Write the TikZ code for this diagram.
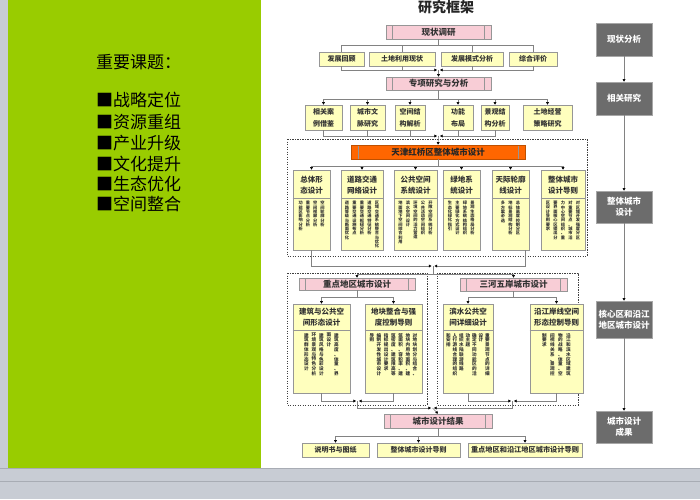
\documentclass[tikz,border=0pt]{standalone}
\usepackage{fontspec}
\setmainfont{Noto Sans CJK SC}
\usetikzlibrary{arrows.meta}
\definecolor{greenbg}{RGB}{153,204,0}
\definecolor{bandc}{RGB}{200,204,212}
\definecolor{bandl}{RGB}{168,172,180}
\definecolor{pinkc}{RGB}{248,205,214}
\definecolor{yelc}{RGB}{255,255,190}
\definecolor{orc}{RGB}{255,102,0}
\definecolor{orb}{RGB}{190,80,0}
\definecolor{bc}{RGB}{150,150,150}
\definecolor{lc}{RGB}{130,130,130}
\definecolor{gc}{RGB}{108,108,108}
\def\vsp#1{\ifx#1\relax\else\hbox{#1}\expandafter\vsp\fi}
% name, x of rightmost column, y top, column step, style, list
\newcommand\vcols[6]{%
  \foreach \vtx [count=\vi] in {#6} {%
    \pgfmathsetmacro\vxx{#2-(\vi-1)*#4}%
    \node[#5,anchor=north] (#1-\vi) at (\vxx,#3) {\vbox{\lineskiplimit=-10pt\lineskip=0pt\expandafter\vsp\vtx\relax}};
  }}
\begin{document}
\begin{tikzpicture}[x=1pt,y=-1pt,
  line/.style={draw=lc,line width=0.6pt},
  arr/.style={draw=lc,line width=0.6pt,-{Triangle[length=2.6pt,width=2.8pt,color=black]}},
  inner lines/.style={path picture={\draw[bc,line width=0.6pt]
      ([xshift=#1]path picture bounding box.north west) -- ([xshift=#1]path picture bounding box.south west)
      ([xshift=-#1]path picture bounding box.north east) -- ([xshift=-#1]path picture bounding box.south east);}},
  pinkb/.style={draw=bc,fill=pinkc,line width=0.6pt,inner sep=0pt,text=black!80,
      font=\fontsize{8.5}{10}\selectfont\bfseries,inner lines=6.5pt},
  orangeb/.style={draw=orb,fill=orc,line width=0.6pt,inner sep=0pt,text=black!85,
      font=\fontsize{8.5}{10}\selectfont\bfseries,inner lines=7pt},
  yel/.style={draw=bc,fill=yelc,line width=0.6pt,inner sep=0pt,text=black!80,align=center,
      font=\fontsize{7}{12}\selectfont\bfseries},
  tall/.style={draw=bc,fill=yelc,line width=0.6pt,inner sep=0pt},
  ttl/.style={inner sep=0pt,align=center,text=black!80,font=\fontsize{7.5}{11}\selectfont\bfseries},
  vtA/.style={inner sep=0pt,text=black!80,font=\fontsize{4.2}{4.3}\selectfont\bfseries},
  vtB/.style={inner sep=0pt,text=black!80,font=\fontsize{4.6}{4.8}\selectfont\bfseries},
  gbox/.style={draw=gc!60!white,fill=gc,line width=0.6pt,inner sep=0pt,text=white,align=center,
      minimum width=56pt,font=\fontsize{8.5}{11}\selectfont\bfseries},
  dotbox/.style={draw=black!75,line width=1pt,dash pattern=on 1.2pt off 1.3pt},
  lefttxt/.style={anchor=west,inner sep=0pt,text=black,font=\fontsize{17}{17}\selectfont}
]
\useasboundingbox (0,0) rectangle (700,499);
% ---------- background ----------
\fill[white] (0,0) rectangle (700,499);
\fill[bandc] (0,0) rectangle (8,499);
\fill[greenbg] (8,0) rectangle (261,468);
\fill[bandc] (0,468) rectangle (700,499);
\draw[bandl,line width=0.8pt] (0,468.4) -- (700,468.4);
\draw[bandl,line width=0.8pt] (0,481.5) -- (700,481.5);
% ---------- left panel ----------
\node[lefttxt] (kt) at (96,62) {重要课题：};
\node[lefttxt] (k1) at (96,100) {■战略定位};
\node[lefttxt] (k2) at (96,122) {■资源重组};
\node[lefttxt] (k3) at (96,143) {■产业升级};
\node[lefttxt] (k4) at (96,164) {■文化提升};
\node[lefttxt] (k5) at (96,184) {■生态优化};
\node[lefttxt] (k6) at (96,204) {■空间整合};
% ---------- title ----------
\node[inner sep=0pt,font=\fontsize{14}{15}\selectfont\bfseries,text=black!85] (title) at (446,7.5) {研究框架};
% ---------- level 1 ----------
\node[pinkb,minimum width=105pt,minimum height=14pt] (p1) at (438.5,32) {现状调研};
\node[yel,minimum width=45pt,minimum height=14pt] (r1a) at (341.5,59) {发展回顾};
\node[yel,minimum width=66pt,minimum height=14pt] (r1b) at (402,59) {土地利用现状};
\node[yel,minimum width=62pt,minimum height=14pt] (r1c) at (472,59) {发展模式分析};
\node[yel,minimum width=48pt,minimum height=14pt] (r1d) at (533,59) {综合评价};
\coordinate (h1) at (0,45);
\coordinate (h1b) at (0,70);
\coordinate (c1) at (438.5,70);
\draw[line] (p1.south) -- (p1.south |- h1);
\draw[line] (r1a.north) |- (r1d.north |- h1) -- (r1d.north);
\draw[line] (r1b.north) -- (r1b.north |- h1);
\draw[line] (r1c.north) -- (r1c.north |- h1);
\draw[line] (r1b.south) -- (r1b.south |- h1b);
\draw[line] (r1c.south) -- (r1c.south |- h1b);
\draw[arr] (r1a.south) |- ([xshift=-1.5pt]c1);
\draw[arr] (r1d.south) |- ([xshift=1.5pt]c1);
\node[pinkb,minimum width=105pt,minimum height=13pt] (p2) at (438.5,83.5) {专项研究与分析};
\draw[arr] (c1) -- (p2.north);
% ---------- level 2 ----------
\node[yel,minimum width=37pt,minimum height=25pt] (r2a) at (323.5,117.5) {相关案\\例借鉴};
\node[yel,minimum width=35pt,minimum height=25pt] (r2b) at (367.5,117.5) {城市文\\脉研究};
\node[yel,minimum width=30pt,minimum height=25pt] (r2c) at (410,117.5) {空间结\\构解析};
\node[yel,minimum width=30pt,minimum height=25pt] (r2d) at (458,117.5) {功能\\布局};
\node[yel,minimum width=28pt,minimum height=25pt] (r2e) at (495,117.5) {景观结\\构分析};
\node[yel,minimum width=49pt,minimum height=25pt] (r2f) at (547.5,117.5) {土地经营\\策略研究};
\coordinate (h2) at (0,99);
\coordinate (h2b) at (0,136);
\coordinate (c2) at (438.5,136);
\draw[line] (p2.south) -- (p2.south |- h2);
\draw[line] (r2a.north |- h2) -- (r2f.north |- h2);
\foreach \n in {r2a,r2b,r2c,r2d,r2e,r2f} \draw[arr] (\n.north |- h2) -- (\n.north);
\draw[line] (r2b.south) -- (r2b.south |- h2b);
\draw[line] (r2c.south) -- (r2c.south |- h2b);
\draw[line] (r2d.south) -- (r2d.south |- h2b);
\draw[arr] (r2a.south) |- ([xshift=-1.5pt]c2);
\draw[arr] (r2e.south) |- ([xshift=1.5pt]c2);
% ---------- overall design ----------
\draw[dotbox] (287,139) rectangle (587,256);
\node[orangeb,minimum width=174pt,minimum height=14pt] (O) at (438,152) {天津红桥区整体城市设计};
\draw[arr] (c2) -- (O.north);
\node[tall,minimum width=37pt,minimum height=80pt] (b1) at (311.5,210) {};
\node[tall,minimum width=42pt,minimum height=80pt] (b2) at (362,210) {};
\node[tall,minimum width=43pt,minimum height=80pt] (b3) at (415.5,210) {};
\node[tall,minimum width=37pt,minimum height=80pt] (b4) at (461.5,210) {};
\node[tall,minimum width=37pt,minimum height=80pt] (b5) at (510.5,210) {};
\node[tall,minimum width=44pt,minimum height=80pt] (b6) at (563,210) {};
\coordinate (d1) at (0,198);
\foreach \n in {b1,b2,b3,b4,b5,b6} \draw[bc,line width=0.6pt] (\n.west |- d1) -- (\n.east |- d1);
\node[ttl] (b1t) at (311.5,185.5) {总体形\\态设计};
\node[ttl] (b2t) at (362,185.5) {道路交通\\网络设计};
\node[ttl] (b3t) at (415.5,185.5) {公共空间\\系统设计};
\node[ttl] (b4t) at (461.5,185.5) {绿地系\\统设计};
\node[ttl] (b5t) at (510.5,185.5) {天际轮廓\\线设计};
\node[ttl] (b6t) at (563,185.5) {整体城市\\设计导则};
\vcols{v1}{322.5}{201}{7.3}{vtA}{空间轮廓分析,空间视廊分析,重要节点分析,功能区影响分析}
\vcols{v2}{377}{201}{7.5}{vtA}{区域交通系统整合与优化,道路交通特征分析,重要交通枢纽分析,重要交通设施布点,道路等级与断面优化}
\vcols{v3}{430.5}{201}{7.5}{vtA}{开敞空间系统分析,公共活动空间组织,环境空间的活力营造,滨水空间设计,地面地下空间综合利用}
\vcols{v4}{472.5}{201}{7.5}{vtA}{景观生态格局分析,绿地系统结构组织,主要绿化方式设计,生态化绿化指引}
\vcols{v5}{518}{201}{7.5}{vtA}{总体高度控制分区,地标景观结构分析,多方案必选}
\vcols{v6}{578}{201}{7.5}{vtA}{对区域开发强度分区,对重要节点、城市活,力中心空间组织、重,要界面核心区提出分,区设计导则要求}
\coordinate (h3) at (0,166);
\draw[line] (O.south) -- (O.south |- h3);
\draw[line] (b1.north |- h3) -- (b6.north |- h3);
\foreach \n in {b1,b2,b3,b4,b5,b6} \draw[arr] (\n.north |- h3) -- (\n.north);
% ---------- to key-area designs ----------
\coordinate (c3) at (433,266);
\coordinate (b5o) at (525,250);
\coordinate (h4) at (0,274);
\draw[arr] (b1.south) |- ([xshift=-1.5pt]c3);
\draw[arr] (b5o) |- ([xshift=1.5pt]c3);
\draw[dotbox] (287,273) rectangle (427,405);
\draw[dotbox] (437,273) rectangle (578,405);
\node[pinkb,minimum width=116pt,minimum height=12pt] (pA) at (357,284) {重点地区城市设计};
\node[pinkb,minimum width=107pt,minimum height=13pt] (pB) at (513.5,284.5) {三河五岸城市设计};
\draw[line] (c3) -- (c3 |- h4);
\draw[line] (pA.north |- h4) -- (pB.north |- h4);
\draw[arr] (pA.north |- h4) -- (pA.north);
\draw[arr] (pB.north |- h4) -- (pB.north);
% group A
\node[tall,minimum width=57pt,minimum height=89pt] (A1) at (321.5,348.5) {};
\node[tall,minimum width=57pt,minimum height=89pt] (A2) at (393.5,348.5) {};
% group B
\node[tall,minimum width=50pt,minimum height=89pt] (B1) at (468,348.5) {};
\node[tall,minimum width=53pt,minimum height=89pt] (B2) at (556.5,348.5) {};
\coordinate (d2) at (0,330);
\foreach \n in {A1,A2,B1,B2} \draw[bc,line width=0.6pt] (\n.west |- d2) -- (\n.east |- d2);
\node[ttl] (A1t) at (321.5,317.5) {建筑与公共空\\间形态设计};
\node[ttl] (A2t) at (393.5,317.5) {地块整合与强\\度控制导则};
\node[ttl] (B1t) at (468,317.5) {滨水公共空\\间详细设计};
\node[ttl] (B2t) at (556.5,317.5) {沿江岸线空间\\形态控制导则};
\vcols{w1}{336.5}{333}{7.5}{vtB}{建筑高度、体量、界,面设计,建筑风格与色彩设计,环境景观与特色分析,建筑群体形态设计}
\vcols{w2}{415}{333}{7.2}{vtB}{对地块划分与组合、,地块内用地面积、建,筑面积、容积率、建,筑密度、建筑限高等,指标提出设计要求,编制开发性城市设计,导则}
\vcols{w3}{487.5}{333}{6.5}{vtB}{重要景观节点的详细,设计,确定不同功能区的活,动主题,组织水陆联游线路,人行游线合理的组织,和安排}
\vcols{w4}{568.5}{333}{8}{vtB}{沿江和滨水区域建筑,物的战略、体量、空,间视线关系、景观控,制要求}
\coordinate (h5) at (0,297);
\draw[line] (pA.south) -- (pA.south |- h5);
\draw[line] (A1.north |- h5) -- (A2.north |- h5);
\draw[arr] (A1.north |- h5) -- (A1.north);
\draw[arr] (A2.north |- h5) -- (A2.north);
\draw[line] (pB.south) -- (pB.south |- h5);
\draw[line] (B1.north |- h5) -- (B2.north |- h5);
\draw[arr] (B1.north |- h5) -- (B1.north);
\draw[arr] (B2.north |- h5) -- (B2.north);
\coordinate (cA) at (357.5,401);
\coordinate (cB) at (512.5,401);
\draw[arr] (A1.south) |- ([xshift=-1.5pt]cA);
\draw[arr] (A2.south) |- ([xshift=1.5pt]cA);
\draw[arr] (B1.south) |- ([xshift=-1.5pt]cB);
\draw[arr] (B2.south) |- ([xshift=1.5pt]cB);
% ---------- results ----------
\coordinate (c4) at (432.5,408);
\draw[arr] (cA) |- ([xshift=-1.5pt]c4);
\draw[arr] (cB) |- ([xshift=1.5pt]c4);
\node[pinkb,minimum width=108pt,minimum height=14pt] (p3) at (438,421) {城市设计结果};
\draw[arr] (c4) -- (p3.north);
\node[yel,minimum width=67pt,minimum height=14pt] (q1) at (335.5,450) {说明书与图纸};
\node[yel,minimum width=83pt,minimum height=14pt] (q2) at (418.5,450) {整体城市设计导则};
\node[yel,minimum width=114pt,minimum height=14pt,font=\fontsize{7.2}{9}\selectfont\bfseries] (q3) at (525,450) {重点地区和沿江地区城市设计导则};
\coordinate (h6) at (0,436);
\draw[line] (p3.south) -- (p3.south |- h6);
\draw[line] (q1.north |- h6) -- (q3.north |- h6);
\foreach \n in {q1,q2,q3} \draw[arr] (\n.north |- h6) -- (\n.north);
% ---------- right column ----------
\node[gbox,minimum height=33pt] (g1) at (624,39.5) {现状分析};
\node[gbox,minimum height=33pt] (g2) at (624,98.5) {相关研究};
\node[gbox,minimum height=32pt] (g3) at (624,207) {整体城市\\设计};
\node[gbox,minimum height=37pt] (g4) at (624,319.5) {核心区和沿江\\地区城市设计};
\node[gbox,minimum height=32pt] (g5) at (624,427) {城市设计\\成果};
\draw[arr] (g1) -- (g2);
\draw[arr] (g2) -- (g3);
\draw[arr] (g3) -- (g4);
\draw[arr] (g4) -- (g5);
\end{tikzpicture}
\end{document}
